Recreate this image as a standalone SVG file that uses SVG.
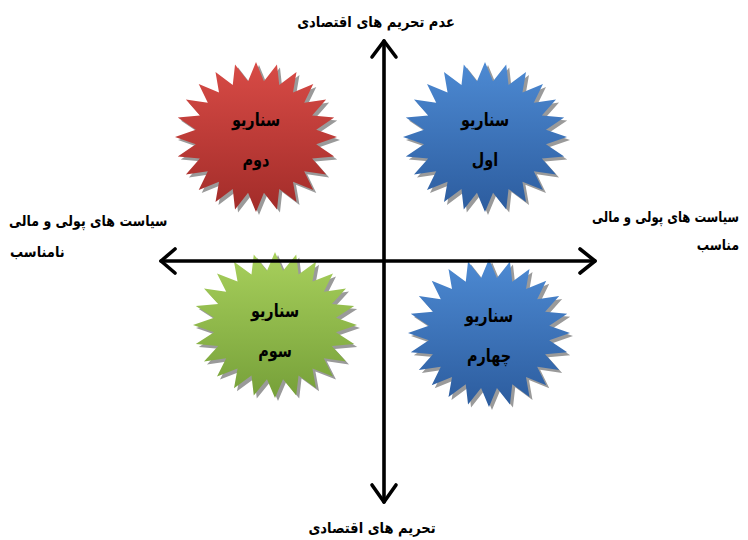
<svg xmlns="http://www.w3.org/2000/svg" width="748" height="540" viewBox="0 0 748 540">
<style>
.t{font-family:"DejaVu Sans",sans-serif;font-weight:bold;fill:#000}
.m{text-anchor:middle}
.s{text-anchor:start}
.e{text-anchor:end}
.lab{font-size:15px}
.st{font-size:18px}
.ax{stroke:#000;stroke-width:3.6;fill:none;stroke-linecap:round;stroke-linejoin:round}
.sh{fill:#9a9a9a}
</style>
<defs>
<path id="star" d="M0,-100 L9.79,-74.36 L25.88,-96.59 L28.7,-69.29 L50,-86.6 L45.66,-59.5 L70.71,-70.71 L59.5,-45.66 L86.6,-50 L69.29,-28.7 L96.59,-25.88 L74.36,-9.79 L100,0 L74.36,9.79 L96.59,25.88 L69.29,28.7 L86.6,50 L59.5,45.66 L70.71,70.71 L45.66,59.5 L50,86.6 L28.7,69.29 L25.88,96.59 L9.79,74.36 L0,100 L-9.79,74.36 L-25.88,96.59 L-28.7,69.29 L-50,86.6 L-45.66,59.5 L-70.71,70.71 L-59.5,45.66 L-86.6,50 L-69.29,28.7 L-96.59,25.88 L-74.36,9.79 L-100,0 L-74.36,-9.79 L-96.59,-25.88 L-69.29,-28.7 L-86.6,-50 L-59.5,-45.66 L-70.71,-70.71 L-45.66,-59.5 L-50,-86.6 L-28.7,-69.29 L-25.88,-96.59 L-9.79,-74.36 Z"/>
<linearGradient id="gRed" x1="0" y1="0" x2="0" y2="1"><stop offset="0" stop-color="#d84b46"/><stop offset="1" stop-color="#a22c29"/></linearGradient>
<linearGradient id="gBlue" x1="0" y1="0" x2="0" y2="1"><stop offset="0" stop-color="#4d8ad3"/><stop offset="1" stop-color="#2c5c9e"/></linearGradient>
<linearGradient id="gGreen" x1="0" y1="0" x2="0" y2="1"><stop offset="0" stop-color="#a8d05c"/><stop offset="1" stop-color="#76a039"/></linearGradient>
<filter id="blur" x="-10%" y="-10%" width="120%" height="120%"><feGaussianBlur stdDeviation="0.8"/></filter>
</defs>

<g id="scenario2">
<use href="#star" class="sh" filter="url(#blur)" transform="translate(259,140) scale(0.81,0.75)"/>
<use href="#star" fill="url(#gRed)" transform="translate(256,137) scale(0.81,0.75)"/>
<text class="t m st" transform="translate(256,126) scale(0.8,1)">سناریو</text>
<text class="t m st" transform="translate(256,166) scale(0.8,1)">دوم</text>
</g>

<g id="scenario1">
<use href="#star" class="sh" filter="url(#blur)" transform="translate(488,140) scale(0.82,0.75)"/>
<use href="#star" fill="url(#gBlue)" transform="translate(485,137) scale(0.82,0.75)"/>
<text class="t m st" transform="translate(485,126) scale(0.8,1)">سناریو</text>
<text class="t m st" transform="translate(485,166) scale(0.8,1)">اول</text>
</g>

<g id="scenario3">
<use href="#star" class="sh" filter="url(#blur)" transform="translate(278,328) scale(0.82,0.73)"/>
<use href="#star" fill="url(#gGreen)" transform="translate(275,325) scale(0.82,0.73)"/>
<text class="t m st" transform="translate(275,317) scale(0.8,1)">سناریو</text>
<text class="t m st" transform="translate(275,357) scale(0.8,1)">سوم</text>
</g>

<g id="scenario4">
<use href="#star" class="sh" filter="url(#blur)" transform="translate(492,336) scale(0.81,0.74)"/>
<use href="#star" fill="url(#gBlue)" transform="translate(489,333) scale(0.81,0.74)"/>
<text class="t m st" transform="translate(489,322) scale(0.8,1)">سناریو</text>
<text class="t m st" transform="translate(489,362) scale(0.8,1)">چهارم</text>
</g>

<g id="connectors">
<line class="ax" x1="161" y1="261" x2="595" y2="261"/>
<polyline class="ax" points="175,249 161,261 175,273"/>
<polyline class="ax" points="580,249 595,261 580,273"/>
<line class="ax" x1="384" y1="41" x2="384" y2="502"/>
<polyline class="ax" points="372,57 384,41 396,57"/>
<polyline class="ax" points="372,485 384,502 396,485"/>
</g>

<g id="labels">
<text class="t m lab" transform="translate(376,27) scale(0.87,1)">عدم تحریم های اقتصادی</text>
<text class="t m lab" transform="translate(372,533) scale(0.87,1)">تحریم های اقتصادی</text>
<text class="t s lab" transform="translate(9,226) scale(0.84,1)">سیاست های پولی و مالی</text>
<text class="t s lab" transform="translate(10,257) scale(0.87,1)">نامناسب</text>
<text class="t e lab" transform="translate(739,222) scale(0.78,1)">سیاست های پولی و مالی</text>
<text class="t e lab" transform="translate(739,250) scale(0.82,1)">مناسب</text>
</g>
</svg>
